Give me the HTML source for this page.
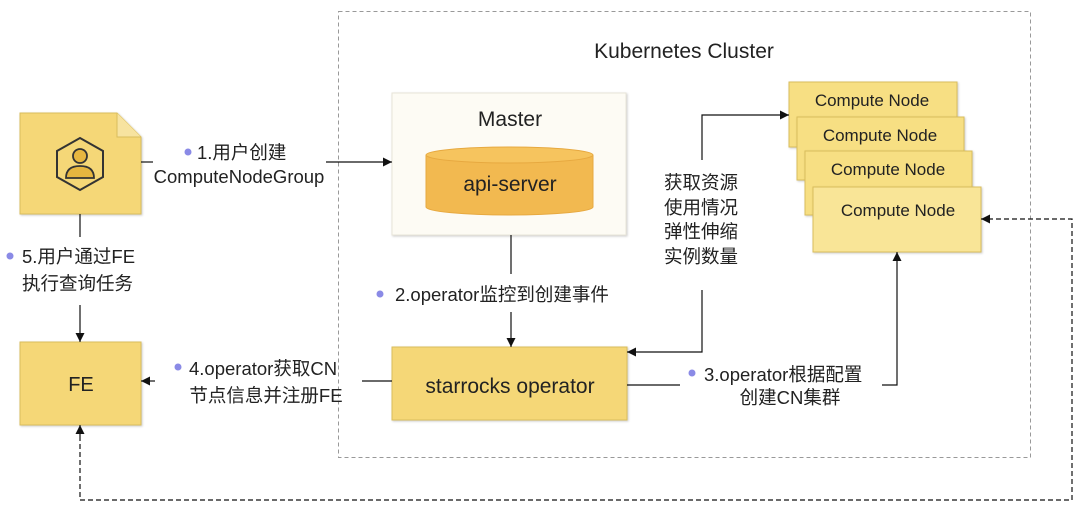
<!DOCTYPE html>
<html><head><meta charset="utf-8"><style>
body{margin:0;width:1080px;height:521px;background:#fff;overflow:hidden;font-family:"Liberation Sans","Noto Sans CJK SC",sans-serif;}
svg{position:absolute;left:0;top:0}
text{font-family:"Liberation Sans","Noto Sans CJK SC",sans-serif;fill:#222}
</style></head><body>
<svg width="1080" height="521" viewBox="0 0 1080 521">
<defs>
<marker id="a" viewBox="0 0 10 10" refX="10" refY="5" markerWidth="9" markerHeight="9" orient="auto-start-reverse" markerUnits="userSpaceOnUse"><path d="M0,0 L10,5 L0,10 z" fill="#111"/></marker>
<filter id="s" x="-10%" y="-10%" width="130%" height="130%"><feDropShadow dx="1" dy="1" stdDeviation="1" flood-color="#000" flood-opacity="0.2"/></filter>
</defs>
<rect x="338.5" y="11.5" width="692" height="446" fill="none" stroke="#999" stroke-dasharray="4,3"/>
<text x="684" y="58" font-size="21" text-anchor="middle">Kubernetes Cluster</text>
<rect x="392" y="93" width="234" height="142" fill="#fdfbf4" stroke="#e8e4d8" filter="url(#s)"/>
<text x="510" y="126" font-size="21" text-anchor="middle">Master</text>
<path d="M426,155 L426,207 A83.5,8 0 0 0 593,207 L593,155" fill="#f2b950" stroke="#e7a940"/>
<ellipse cx="509.5" cy="155" rx="83.5" ry="8" fill="#f6c45e" stroke="#e7a940"/>
<text x="510" y="191" font-size="21" text-anchor="middle">api-server</text>
<rect x="392" y="347" width="235" height="73" fill="#f5d777" stroke="#d9bd5c" filter="url(#s)"/>
<text x="510" y="393" font-size="21" text-anchor="middle">starrocks operator</text>
<rect x="789" y="82" width="168" height="65" fill="#f7df83" stroke="#d9bd5c" filter="url(#s)"/>
<text x="872" y="106" font-size="17" text-anchor="middle">Compute Node</text>
<rect x="797" y="117" width="167" height="63" fill="#f7df83" stroke="#d9bd5c" filter="url(#s)"/>
<text x="880" y="141" font-size="17" text-anchor="middle">Compute Node</text>
<rect x="805" y="151" width="167" height="64" fill="#f7df83" stroke="#d9bd5c" filter="url(#s)"/>
<text x="888" y="175" font-size="17" text-anchor="middle">Compute Node</text>
<rect x="813" y="187" width="168" height="65" fill="#f9e597" stroke="#d9bd5c" filter="url(#s)"/>
<text x="898" y="216" font-size="17" text-anchor="middle">Compute Node</text>
<path d="M20,113 L117,113 L141,137 L141,214 L20,214 z" fill="#f5d777" stroke="#d9bd5c" filter="url(#s)"/>
<path d="M117,113 L117,137 L141,137" fill="#f7e3a0" stroke="#d9bd5c"/>
<polygon points="80,138 103,151 103,177 80,190 57,177 57,151" fill="none" stroke="#333" stroke-width="2"/>
<circle cx="80" cy="156" r="7" fill="#e6b640" stroke="#333" stroke-width="1.8"/>
<path d="M66,178 Q66,166 80,166 Q94,166 94,178 z" fill="#e6b640" stroke="#333" stroke-width="1.8"/>
<rect x="20" y="342" width="121" height="83" fill="#f5d777" stroke="#d9bd5c" filter="url(#s)"/>
<text x="81" y="391" font-size="20" text-anchor="middle">FE</text>
<g stroke="#111" stroke-width="1.2" fill="none">
<line x1="141" y1="162" x2="153" y2="162"/>
<line x1="326" y1="162" x2="392" y2="162" marker-end="url(#a)"/>
<line x1="511" y1="235" x2="511" y2="274"/>
<line x1="511" y1="312" x2="511" y2="347" marker-end="url(#a)"/>
<polyline points="702,290 702,352 627,352" marker-end="url(#a)"/>
<polyline points="702,160 702,115 789,115" marker-end="url(#a)"/>
<line x1="627" y1="385" x2="680" y2="385"/>
<polyline points="882,385 897,385 897,252" marker-end="url(#a)"/>
<line x1="392" y1="381" x2="362" y2="381"/>
<line x1="155" y1="381" x2="141" y2="381" marker-end="url(#a)"/>
<line x1="80" y1="214" x2="80" y2="237"/>
<line x1="80" y1="305" x2="80" y2="342" marker-end="url(#a)"/>
<polyline points="80,436 80,500 1072,500 1072,219 981,219" stroke-dasharray="5,3" marker-end="url(#a)"/>
<line x1="80" y1="436" x2="80" y2="425" marker-end="url(#a)"/>
</g>
<g font-size="18.5">
<circle cx="188" cy="152" r="3.5" fill="#8a8ae6"/>
<text x="197" y="159">1.用户创建</text>
<text x="239" y="183" text-anchor="middle">ComputeNodeGroup</text>
<circle cx="380" cy="294" r="3.5" fill="#8a8ae6"/>
<text x="395" y="301">2.operator监控到创建事件</text>
<text x="664" y="189">获取资源</text>
<text x="664" y="214">使用情况</text>
<text x="664" y="238">弹性伸缩</text>
<text x="664" y="263">实例数量</text>
<circle cx="692" cy="373" r="3.5" fill="#8a8ae6"/>
<text x="704" y="381">3.operator根据配置</text>
<text x="790" y="404" text-anchor="middle">创建CN集群</text>
<circle cx="178" cy="367" r="3.5" fill="#8a8ae6"/>
<text x="189" y="375">4.operator获取CN</text>
<text x="266" y="402" text-anchor="middle">节点信息并注册FE</text>
<circle cx="10" cy="256" r="3.5" fill="#8a8ae6"/>
<text x="22" y="263">5.用户通过FE</text>
<text x="22" y="290">执行查询任务</text>
</g>
</svg>
</body></html>
